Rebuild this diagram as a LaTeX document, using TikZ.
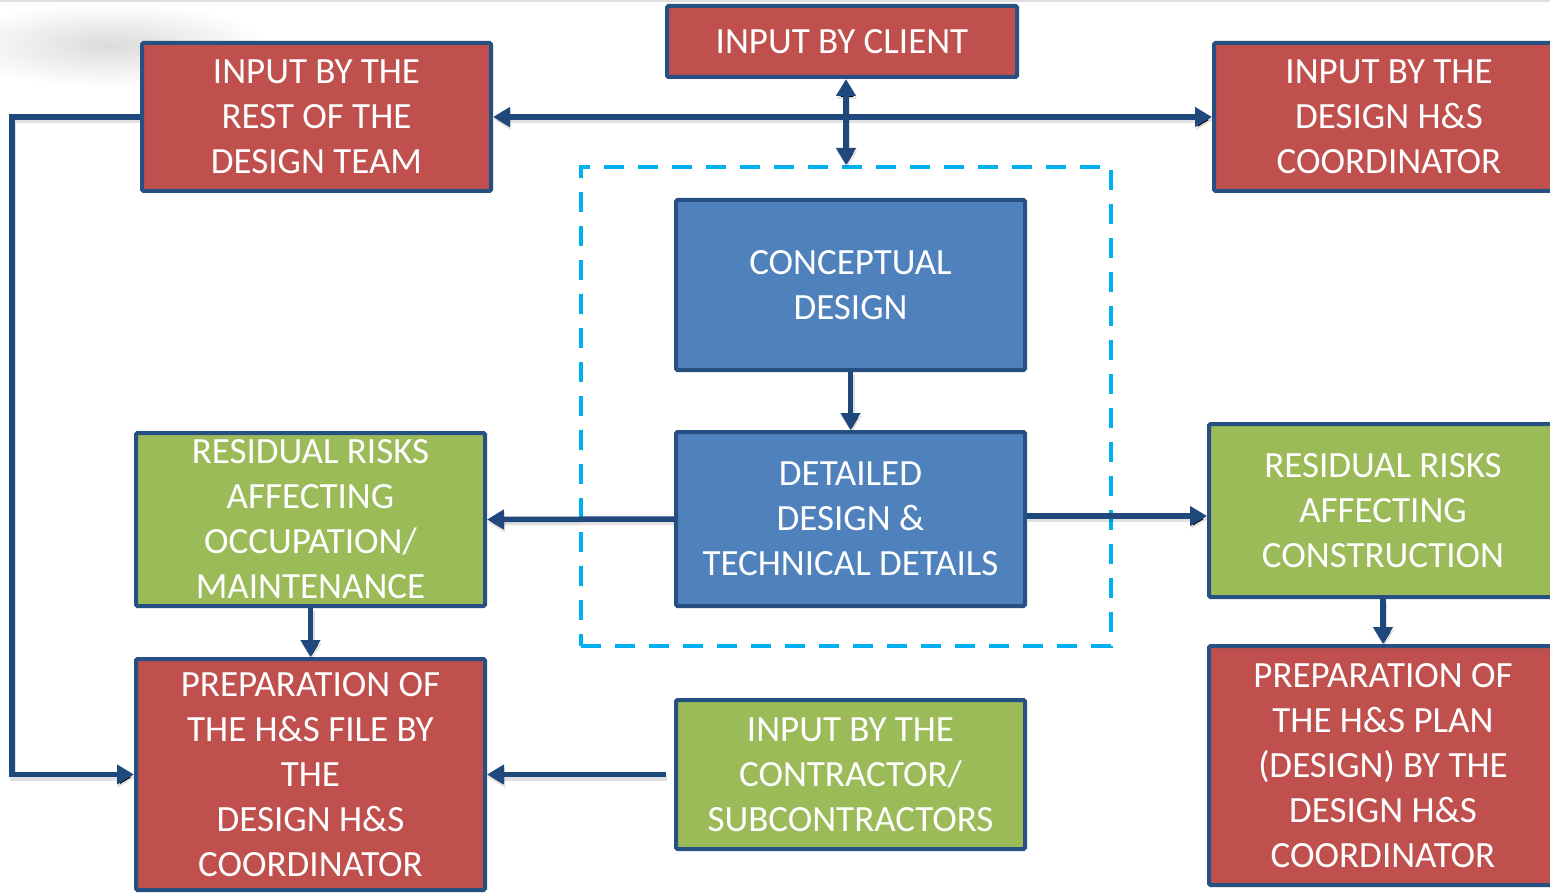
\documentclass[tikz,border=0pt]{standalone}
\usepackage{fontspec}
\setmainfont{Carlito}
\usetikzlibrary{arrows.meta}
\definecolor{boxred}{HTML}{C0504D}
\definecolor{boxblue}{HTML}{4F81BD}
\definecolor{boxgreen}{HTML}{9BBB59}
\definecolor{edge}{HTML}{264F82}
\definecolor{arr}{HTML}{1F497D}
\definecolor{cyanline}{HTML}{00B0F0}
\tikzset{
  box/.style={draw=edge, line width=4pt, rounded corners=1.5pt, text=white, align=center,
    inner sep=0pt, font=\fontsize{37}{45}\selectfont},
  redbox/.style={box, fill=boxred},
  bluebox/.style={box, fill=boxblue},
  greenbox/.style={box, fill=boxgreen},
  conn/.style={draw=arr, line width=5.5pt, -{Triangle[length=17pt,width=19pt]},
    preaction={draw=black, draw opacity=0.12, line width=6pt, transform canvas={shift={(1pt,-3pt)}}}},
  conn2/.style={conn, {Triangle[length=17pt,width=19pt]}-{Triangle[length=17pt,width=19pt]}},
}
\begin{document}
\begin{tikzpicture}[x=1pt,y=-1pt]
\useasboundingbox (0,0) rectangle (1550,893);
\fill[white] (0,0) rectangle (1550,893);
\shade[inner color=black!14, outer color=white] (110,45) ellipse [x radius=160pt, y radius=42pt];
\draw[color=black!12, line width=2pt] (0,1) -- (1550,1);
% dashed group
\node[draw=cyanline, dashed, dash pattern=on 20pt off 14pt, line width=4pt, minimum width=530pt, minimum height=479pt, inner sep=0pt] (grp) at (846,406.5) {};
% boxes
\node[redbox, minimum width=350pt, minimum height=71pt] (client) at (842,41.5) {INPUT BY CLIENT};
\node[redbox, minimum width=349pt, minimum height=148pt] (team) at (316.5,117) {INPUT BY THE\\REST OF THE\\DESIGN TEAM};
\node[redbox, minimum width=350pt, minimum height=148pt] (hscoord) at (1389,117) {INPUT BY THE\\DESIGN H\&S\\COORDINATOR};
\node[bluebox, minimum width=349pt, minimum height=170pt] (concept) at (850.5,285) {CONCEPTUAL\\DESIGN};
\node[bluebox, minimum width=349pt, minimum height=174pt] (detailed) at (850.5,519) {DETAILED\\DESIGN \&\\TECHNICAL DETAILS};
\node[greenbox, minimum width=349pt, minimum height=173pt] (resocc) at (310.5,519.5) {RESIDUAL RISKS\\AFFECTING\\OCCUPATION/\\MAINTENANCE};
\node[greenbox, minimum width=348pt, minimum height=173pt] (rescon) at (1383,510.5) {RESIDUAL RISKS\\AFFECTING\\CONSTRUCTION};
\node[redbox, minimum width=349pt, minimum height=231pt] (prepfile) at (310.5,774.5) {PREPARATION OF\\THE H\&S FILE BY\\THE\\DESIGN H\&S\\COORDINATOR};
\node[greenbox, minimum width=349pt, minimum height=149pt] (contractor) at (850.5,774.5) {INPUT BY THE\\CONTRACTOR/\\SUBCONTRACTORS};
\node[redbox, minimum width=348pt, minimum height=239pt] (prepplan) at (1383,765.5) {PREPARATION OF\\THE H\&S PLAN\\(DESIGN) BY THE\\DESIGN H\&S\\COORDINATOR};
% connectors
\draw[conn2] (team.east) -- (hscoord.west);
\draw[conn2] (grp.north |- client.south) -- (grp.north);
\draw[conn] (team.west) -- ++(-128,0) |- (prepfile.west);
\draw[conn] (concept.south) -- (detailed.north);
\draw[conn] (detailed.west) -- (resocc.east);
\draw[conn] ([yshift=3pt]detailed.east) -- ([yshift=3pt]detailed.east -| rescon.west);
\draw[conn] (resocc.south) -- (prepfile.north);
\draw[conn] (rescon.south) -- (prepplan.north);
\draw[conn] ([xshift=-8pt]contractor.west) -- (contractor.west -| prepfile.east);
\end{tikzpicture}
\end{document}
